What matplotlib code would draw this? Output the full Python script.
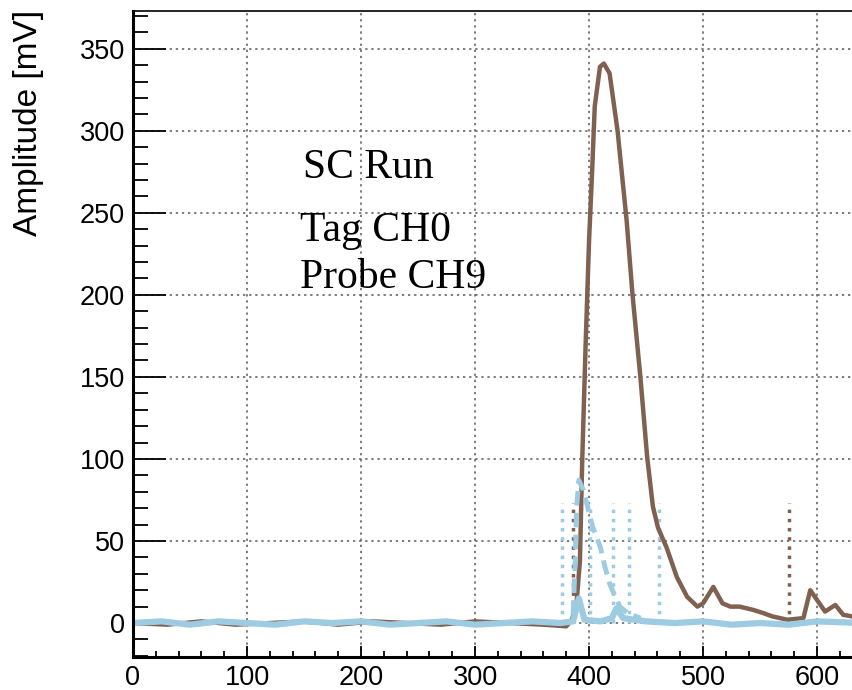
import matplotlib.pyplot as plt
from matplotlib.ticker import MultipleLocator

# tag channel (brown) trace
tag_x = [0, 30, 60, 90, 120, 150, 180, 210, 240, 270, 300, 330, 360, 380, 385, 389, 392, 394, 397,
         400, 402.6, 405, 409.6, 413, 418, 425, 433, 438, 445, 451, 456, 460.5, 468, 477, 486, 495,
         500, 509, 517, 524, 532, 544, 553, 561, 574, 588, 594, 600, 607, 616, 623, 631, 640]
tag_y = [0, -1, 1, -1, 0, 1, -1, 1, 0, -1, 1, 0, -1, -2, 2, 12, 38, 99, 170,
         233, 274, 315, 339, 341, 335, 300, 245, 201, 150, 101, 71, 58, 46, 28, 16, 10,
         12, 22, 12, 10, 10, 8, 6, 4, 2, 3, 20, 14, 7, 11, 5, 4, 4]

# probe channel (light blue) baseline trace
probe_x = [0, 25, 50, 75, 100, 125, 150, 175, 200, 225, 250, 275, 300, 325, 350, 375, 386, 391,
           396, 410, 420, 424, 430, 450, 475, 500, 525, 550, 575, 600, 640]
probe_y = [0, 1, -1, 1, 0, -1, 1, 0, 1, -1, 0, 1, -1, 0, 1, 0, 1, 15,
           2, 1, 3, 9, 3, 1, 0, 1, -1, 0, -1, 1, 0]

# probe pulse shown dashed
pulse_x = [386, 388, 389, 391, 395, 403, 410, 414, 418, 423, 427, 434, 445]
pulse_y = [5, 40, 70, 87, 81, 59, 46, 34, 24, 16, 10, 6, 3]

# window markers
probe_marks = [376, 401, 421, 435, 461]
tag_marks = [386, 575]
mark_top = 73

brown = '#80604f'
blue = '#9dcbe2'

fig = plt.figure(figsize=(8.53, 6.9), dpi=100)
ax = fig.add_axes([133/853, 33/690, 720/853, 646/690])

ax.vlines(tag_marks, 0, mark_top, colors=brown, linestyles=':', lw=2.5)
ax.vlines(probe_marks, 0, mark_top, colors=blue, linestyles=':', lw=2.5)
ax.plot(tag_x, tag_y, color=brown, lw=3.2)
ax.plot(probe_x, probe_y, color=blue, lw=4.5)
ax.plot(pulse_x, pulse_y, color=blue, lw=3.5, ls=(0, (3, 1.5)))

ax.set_xlim(0, 631.5)
ax.set_ylim(-20.7, 373)

ax.xaxis.set_major_locator(MultipleLocator(100))
ax.xaxis.set_minor_locator(MultipleLocator(20))
ax.yaxis.set_major_locator(MultipleLocator(50))
ax.yaxis.set_minor_locator(MultipleLocator(10))

ax.grid(True, which='major', color='0.35', ls=(0, (1.5, 2.5)), lw=1.1)
ax.set_axisbelow(True)

ax.tick_params(axis='y', which='major', direction='in', length=24, width=1.3, pad=6)
ax.tick_params(axis='y', which='minor', direction='in', length=11, width=1.3)
ax.tick_params(axis='x', which='major', direction='in', length=8, width=1.3, pad=6)
ax.tick_params(axis='x', which='minor', direction='in', length=4.5, width=1.3)
for lab in ax.get_xticklabels() + ax.get_yticklabels():
    lab.set_fontfamily('Liberation Sans')
    lab.set_fontsize(19.5)

ax.spines['right'].set_visible(False)
ax.spines['left'].set_linewidth(2.2)
ax.spines['bottom'].set_linewidth(2.2)
ax.spines['top'].set_linewidth(1.2)

fig.text(29/853, 1 - 10/690, 'Amplitude [mV]', rotation=90, ha='center', va='top',
         fontsize=24, family='Liberation Sans')

serif = dict(fontsize=30, family='Liberation Serif', color='black')
ax.text(149, 271, 'SC Run', **serif)
ax.text(146.5, 233, 'Tag CH0', **serif)
ax.text(146.5, 204, 'Probe CH9', **serif)

fig.savefig('out.png', dpi=100)
